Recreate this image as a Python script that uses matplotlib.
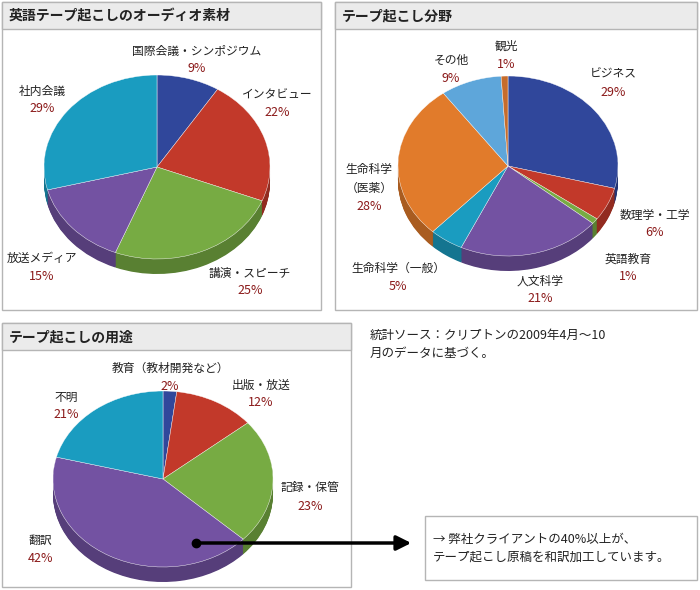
import matplotlib.pyplot as plt
from matplotlib.patches import Rectangle, FancyArrowPatch
import matplotlib.colors as mc

plt.rcParams['font.family'] = ['Noto Sans CJK JP', 'DejaVu Sans']

# data
src_labels = ['国際会議・シンポジウム', 'インタビュー', '講演・スピーチ', '放送メディア', '社内会議']
src_vals = [9, 22, 25, 15, 29]
field_labels = ['ビジネス', '数理学・工学', '英語教育', '人文科学', '生命科学（一般）', '生命科学\n（医薬）', 'その他', '観光']
field_vals = [29, 6, 1, 21, 5, 28, 9, 1]
use_labels = ['教育（教材開発など）', '出版・放送', '記録・保管', '翻訳', '不明']
use_vals = [2, 12, 23, 42, 21]

BLUE, RED, GREEN, PURPLE, CYAN = '#30479b', '#c2392a', '#77ab43', '#7352a2', '#1a9cc0'
ORANGE, LBLUE, BROWN = '#e17b2b', '#5ea6da', '#c66c2c'

W, H = 700, 590
fig = plt.figure(figsize=(7, 5.9), dpi=100)


def pixel_axes():
    a = fig.add_axes([0, 0, 1, 1])
    a.set_xlim(0, W)
    a.set_ylim(H, 0)
    a.axis('off')
    a.patch.set_visible(False)
    return a


bg = pixel_axes()


def panel(x0, y0, x1, y1, title):
    bg.add_patch(Rectangle((x0, y0), x1 - x0, y1 - y0, fc='white', ec='#b5b5b5', lw=1))
    bg.add_patch(Rectangle((x0, y0), x1 - x0, 27, fc='#ebebeb', ec='#b5b5b5', lw=1))
    bg.text(x0 + 7, y0 + 14, title, fontsize=10, fontweight='bold', va='center', color='#222222')


def pie3d(cx, cy, rx, ry, depth, vals, cols):
    pax = fig.add_axes([(cx - rx) / W, 1 - (cy + ry + depth) / H, 2 * rx / W, (2 * ry + depth) / H])
    d = depth / ry
    dark = [tuple(c * 0.75 for c in mc.to_rgb(c)) for c in cols]
    n = 20
    for i in range(n, 0, -1):
        pax.pie(vals, colors=dark, startangle=90, counterclock=False, center=(0, -d * i / n),
                wedgeprops=dict(linewidth=0), frame=True)
    pax.pie(vals, colors=cols, startangle=90, counterclock=False,
            wedgeprops=dict(linewidth=0.3, edgecolor='white'), frame=True)
    pax.set_xlim(-1, 1)
    pax.set_ylim(-1 - d, 1)
    pax.set_aspect('auto')
    pax.axis('off')
    pax.patch.set_visible(False)


panel(2, 2, 321, 310, '英語テープ起こしのオーディオ素材')
panel(335, 2, 697, 310, 'テープ起こし分野')
panel(2, 323, 351, 587, 'テープ起こしの用途')

pie3d(157, 167, 113, 92, 15, src_vals, [BLUE, RED, GREEN, PURPLE, CYAN])
pie3d(508, 166, 110, 90, 15, field_vals, [BLUE, RED, GREEN, PURPLE, CYAN, ORANGE, LBLUE, BROWN])
pie3d(163, 479, 110, 88, 15, use_vals, [BLUE, RED, GREEN, PURPLE, CYAN])

ax = pixel_axes()


def lab(x, y, name, pct, ha='center'):
    ax.text(x, y, name, fontsize=8.5, ha=ha, va='center', color='#222222')
    ax.text(x, y + 18, f'{pct}%', fontsize=9, ha=ha, va='center', color='#8b1a1a')


src_pos = [(197, 51), (277, 95), (250, 273), (42, 258), (42, 91)]
for (x, y), n, v in zip(src_pos, src_labels, src_vals):
    lab(x, y, n, v)
field_pos = [(613, 74), (655, 215), (628, 259), (540, 281), (398, 268), (369, 185), (451, 60), (506, 46)]
for (x, y), n, v in zip(field_pos, field_labels, field_vals):
    if '\n' in n:
        ax.text(x, y - 6, n, fontsize=8.5, ha='center', va='center', color='#222222', linespacing=1.5)
        ax.text(x, y + 22, f'{v}%', fontsize=9, ha='center', va='center', color='#8b1a1a')
    else:
        lab(x, y, n, v)
use_pos = [(170, 368), (261, 385), (310, 488), (40, 540), (66, 397)]
for (x, y), n, v in zip(use_pos, use_labels, use_vals):
    lab(x, y, n, v)

ax.text(370, 344, '統計ソース：クリプトンの2009年4月～10\n月のデータに基づく。', fontsize=9,
        va='center', color='#222222', linespacing=1.5)

ax.plot([196], [543], 'o', color='black', ms=6)
ax.add_patch(FancyArrowPatch((196, 543), (414, 543), arrowstyle='-|>', mutation_scale=22,
                             color='black', lw=2.5))
ax.add_patch(Rectangle((425, 516), 272, 64, fc='white', ec='#b5b5b5', lw=1))
ax.text(433, 548, '→ 弊社クライアントの40%以上が、\nテープ起こし原稿を和訳加工しています。',
        fontsize=9, va='center', color='#222222', linespacing=1.5)

fig.savefig('out.png', dpi=100, facecolor='white')
